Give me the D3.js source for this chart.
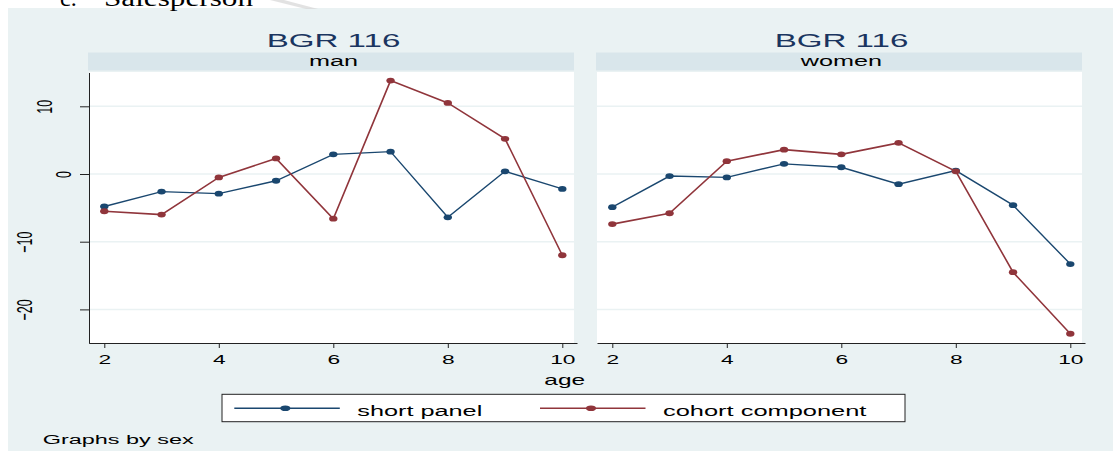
<!DOCTYPE html>
<html><head><meta charset="utf-8">
<script src="https://cdn.jsdelivr.net/npm/d3@7"></script>
<style>
body{margin:0;background:#fff;overflow:hidden}
svg{display:block}
</style>
</head><body>
<svg id="chart" width="1113" height="453" font-family="'Liberation Sans',Arial,Helvetica,sans-serif"></svg>
<script>
// ---- data ----
const ages = [2, 3, 4, 5, 6, 7, 8, 9, 10];
const panels = ["man", "women"];
const shortPanelMan   = [-4.8, -2.6, -2.9, -1.0, 2.9, 3.3, -6.4, 0.4, -2.2];
const cohortMan       = [-5.5, -6.0, -0.5, 2.3, -6.6, 13.8, 10.5, 5.2, -12.0];
const shortPanelWomen = [-4.9, -0.3, -0.5, 1.5, 1.0, -1.5, 0.5, -4.6, -13.3];
const cohortWomen     = [-7.4, -5.8, 1.9, 3.6, 2.9, 4.6, 0.4, -14.5, -23.6];
const seriesNames = ["short panel", "cohort component"];
const xTicks = [2, 4, 6, 8, 10];
const yTicks = [-20, -10, 0, 10];
const panelTitle = "BGR 116";
const xLabel = "age";
const noteText = "Graphs by sex";
const headingParts = ["c.", "Salesperson"];

// ---- style ----
const colors = ["#1a476f", "#90353b"];
const bg = "#eaf2f3", strip = "#d9e6eb";
const sans = "'Liberation Sans',Arial,Helvetica,sans-serif";
const serif = "'Liberation Serif','Times New Roman',serif";
const seriesByPanel = { man: [shortPanelMan, cohortMan], women: [shortPanelWomen, cohortWomen] };

const svg = d3.select("#chart");

function stretch(sel, k) {
  sel.each(function () {
    const len = this.getComputedTextLength();
    d3.select(this).attr("textLength", len * k).attr("lengthAdjust", "spacingAndGlyphs");
  });
  return sel;
}

// background region
svg.append("rect").attr("x", 8).attr("y", 8).attr("width", 1105).attr("height", 443).attr("fill", bg);

// faint watermark stroke at the top
svg.append("path").attr("d", "M270,0 L284,0 L318,9 L306,9 Z").attr("fill", "#d6d6d6").attr("opacity", 0.7);

// cut-off document heading
svg.append("text").attr("x", 60).attr("y", 6).attr("font-family", serif)
  .attr("font-size", 24).attr("fill", "#000").text(headingParts[0]);
stretch(svg.append("text").attr("x", 104).attr("y", 6).attr("font-family", serif)
  .attr("font-size", 24).attr("fill", "#000").text(headingParts[1]), 1.3);

const y = d3.scaleLinear().domain([-25, 15]).range([343.25, 72.45]);
const plotW = 485, plotTop = 72, plotBottom = 343;

panels.forEach((p, i) => {
  const px0 = 89 + i * 508;
  const x = d3.scaleLinear().domain([2, 10]).range([px0 + 15.3, px0 + 473.3]);
  const g = svg.append("g");

  // title
  stretch(g.append("text").attr("x", px0 + plotW / 2 + 2).attr("y", 46.7).attr("text-anchor", "middle")
    .attr("font-size", 18.6).attr("fill", "#1a3560").text(panelTitle), 1.78);

  // strip
  g.append("rect").attr("x", px0 - 1).attr("y", 52.5).attr("width", plotW + 1).attr("height", 18).attr("fill", strip);
  stretch(g.append("text").attr("x", px0 + plotW / 2 + 2).attr("y", 66).attr("text-anchor", "middle")
    .attr("font-size", 14).attr("fill", "#000").text(p), 1.8);

  // plot area
  g.append("rect").attr("x", px0).attr("y", plotTop).attr("width", plotW).attr("height", plotBottom - plotTop).attr("fill", "#fff");

  // gridlines
  g.selectAll("line.grid").data(yTicks).join("line").attr("class", "grid")
    .attr("x1", px0).attr("x2", px0 + plotW).attr("y1", d => y(d)).attr("y2", d => y(d))
    .attr("stroke", bg).attr("stroke-width", 1.5);

  // series
  const line = d3.line().x((d, j) => x(ages[j])).y(d => y(d));
  seriesByPanel[p].forEach((vals, s) => {
    g.append("path").datum(vals).attr("d", line).attr("fill", "none")
      .attr("stroke", colors[s]).attr("stroke-width", s === 1 ? 1.6 : 1.4);
    g.selectAll("ellipse.s" + s).data(vals).join("ellipse").attr("class", "s" + s)
      .attr("cx", (d, j) => x(ages[j])).attr("cy", d => y(d)).attr("rx", 4.2).attr("ry", 2.9)
      .attr("fill", colors[s]);
  });

  // x axis (scale extended to the full axis line length)
  const xa = d3.scaleLinear().domain([x.invert(px0), x.invert(px0 + 488)]).range([px0, px0 + 488]);
  const xg = g.append("g").attr("transform", `translate(0,${plotBottom})`)
    .call(d3.axisBottom(xa).tickValues(xTicks).tickSize(5).tickSizeOuter(0).tickPadding(7));
  xg.attr("font-family", sans);
  xg.select(".domain").attr("stroke", "#222").attr("stroke-width", 1);
  xg.selectAll(".tick line").attr("stroke", "#222");
  xg.selectAll(".tick text").attr("font-size", 13).attr("fill", "#000");
  stretch(xg.selectAll(".tick text"), 1.75);

  // y axis (first panel only)
  if (i === 0) {
    const yg = g.append("g").attr("transform", `translate(${px0},0)`)
      .call(d3.axisLeft(y).tickValues(yTicks).tickSize(9).tickSizeOuter(0));
    yg.attr("font-family", sans);
    yg.select(".domain").attr("stroke", "#222").attr("stroke-width", 1);
    yg.selectAll(".tick line").attr("stroke", "#222");
    yg.selectAll(".tick text").each(function () {
      const t = d3.select(this);
      t.attr("font-size", 12.5).attr("fill", "#000")
        .attr("text-anchor", "middle").attr("dy", null).attr("x", null);
      const len = this.getComputedTextLength();
      const cx = 62.5 - 2.7 * (len - 7);
      const right = cx + 8 - px0;
      t.attr("transform", `translate(${right},0) scale(1.8,1) rotate(-90)`);
    });
  }
});

// x axis title
stretch(svg.append("text").attr("x", 564.7).attr("y", 385).attr("text-anchor", "middle")
  .attr("font-size", 15).attr("fill", "#000").text(xLabel), 1.63);

// legend
const lg = svg.append("g");
lg.append("rect").attr("x", 222).attr("y", 394.3).attr("width", 683).attr("height", 27.4)
  .attr("fill", "#fff").attr("stroke", "#222").attr("stroke-width", 1);
const legendLineX = [234.3, 540];
const legendTextLen = [125, 203.4];
seriesNames.forEach((name, s) => {
  const lx = legendLineX[s];
  lg.append("line").attr("x1", lx).attr("x2", lx + 105.5).attr("y1", 408.3).attr("y2", 408.3)
    .attr("stroke", colors[s]).attr("stroke-width", 1.4);
  lg.append("ellipse").attr("cx", lx + 51).attr("cy", 408.3).attr("rx", 5).attr("ry", 2.8).attr("fill", colors[s]);
  lg.append("text").attr("x", lx + 123).attr("y", 415.5).attr("font-size", 15.5).attr("fill", "#000")
    .attr("textLength", legendTextLen[s]).attr("lengthAdjust", "spacingAndGlyphs").text(name);
});

// note
svg.append("text").attr("x", 42.7).attr("y", 444).attr("font-size", 12.5).attr("fill", "#000")
  .attr("textLength", 151).attr("lengthAdjust", "spacingAndGlyphs").text(noteText);
</script>
</body></html>
